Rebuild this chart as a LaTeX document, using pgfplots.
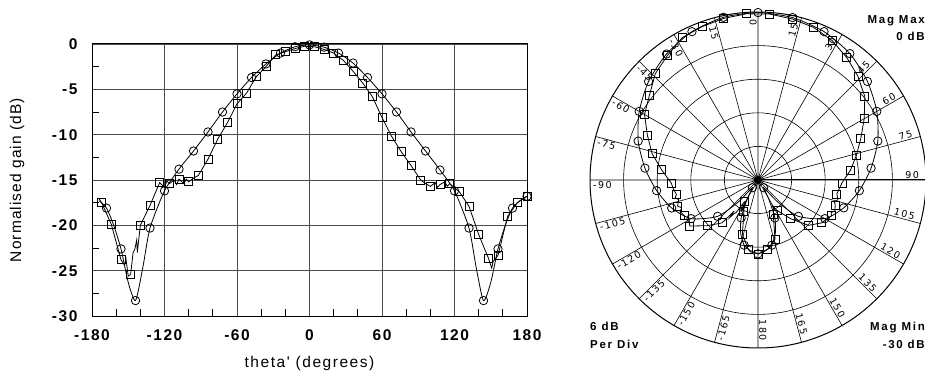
\documentclass[border=0pt]{standalone}
\usepackage{fontspec}
\usepackage{pgfplots}
\usepackage{pgfplotstable}
\pgfplotsset{compat=1.18}
\usepgfplotslibrary{polar}
\setmainfont{Liberation Sans}
\newfontfamily\trk{Liberation Sans}[LetterSpace=10]
\newfontfamily\trky{Liberation Sans}[LetterSpace=7]
\newfontfamily\trkc{Liberation Sans}[LetterSpace=15]
\newfontfamily\ang{DejaVu Sans}[LetterSpace=15]

\pgfplotstableread{
t g
-174 -17.3
-168 -18.1
-162 -20.0
-156 -22.6
-150 -26.3
-144 -28.3
-138 -24.7
-132 -20.3
-120 -16.2
-108 -13.8
-96 -11.8
-84 -9.7
-72 -7.5
-60 -5.5
-48 -3.7
-36 -2.2
-24 -1.0
-12 -0.3
0 -0.1
12 -0.35
24 -1.0
36 -2.1
48 -3.7
60 -5.5
72 -7.5
84 -9.7
96 -11.8
108 -13.9
120 -16.2
132 -20.3
138 -24.7
144 -28.3
150 -26.3
156 -22.6
162 -20.0
168 -18.1
174 -17.3
180 -16.8
}\circline

\pgfplotstableread{
t g
-168 -18.1
-156 -22.6
-144 -28.3
-132 -20.3
-120 -16.2
-108 -13.8
-96 -11.8
-84 -9.7
-72 -7.5
-60 -5.5
-48 -3.7
-36 -2.2
-24 -1.0
-12 -0.3
0 -0.1
12 -0.35
24 -1.0
36 -2.1
48 -3.7
60 -5.5
72 -7.5
84 -9.7
96 -11.8
108 -13.9
120 -16.2
132 -20.3
144 -28.3
156 -22.6
168 -18.1
180 -16.8
}\circmarks

\pgfplotstableread{
t g
180 -16.8
186 -17.3
}\circwrap

\pgfplotstableread{
t g
-174 -17.1
-172 -17.5
-164 -19.9
-156 -23.8
-153 -24.4
-152 -23.6
-150 -25.6
-148 -25.4
-146 -23.0
-144.5 -22.6
-143 -21.6
-142.5 -23.0
-140 -20.0
-132 -17.8
-124 -15.3
-120 -15.8
-118 -15.1
-116 -15.4
-112 -15.0
-110 -15.5
-108 -14.9
-104 -15.4
-102 -14.9
-100 -15.2
-96 -14.8
-92 -14.5
-84 -12.7
-76 -10.5
-68 -8.7
-60 -6.6
-52 -5.4
-44 -3.6
-36 -2.5
-28 -1.2
-20 -0.85
-12 -0.5
-4 -0.25
4 -0.3
12 -0.6
20 -1.0
28 -1.8
36 -3.0
44 -4.3
52 -5.8
60 -8.1
68 -10.2
76 -11.9
84 -13.4
92 -15.0
96 -15.4
100 -15.7
104 -15.3
106 -15.8
108 -15.5
112 -15.2
114 -15.7
116 -15.4
124 -16.3
132 -17.9
140 -21.0
148 -23.6
150.8 -24.7
152 -24.0
156 -23.3
164 -19.0
172 -17.5
180 -16.8
}\sqline

\pgfplotstableread{
t g
-172 -17.5
-164 -19.9
-156 -23.8
-148 -25.4
-140 -20.0
-132 -17.8
-124 -15.3
-116 -15.4
-108 -14.9
-100 -15.2
-92 -14.5
-84 -12.7
-76 -10.5
-68 -8.7
-60 -6.6
-52 -5.4
-44 -3.6
-36 -2.5
-28 -1.2
-20 -0.85
-12 -0.5
-4 -0.25
4 -0.3
12 -0.6
20 -1.0
28 -1.8
36 -3.0
44 -4.3
52 -5.8
60 -8.1
68 -10.2
76 -11.9
84 -13.4
92 -15.0
100 -15.7
108 -15.5
116 -15.4
124 -16.3
132 -17.9
140 -21.0
148 -23.6
156 -23.3
164 -19.0
172 -17.5
180 -16.8
}\sqmarks

\pgfplotstableread{
t g
180 -16.8
186 -17.1
}\sqwrap

\begin{document}
\begin{tikzpicture}
\useasboundingbox (0,0) rectangle (925bp,377bp);
\begin{axis}[
  at={(92bp,61bp)}, anchor=south west,
  scale only axis, width=435bp, height=272bp,
  xmin=-180, xmax=180, ymin=-30, ymax=0,
  xtick={-180,-120,...,180}, ytick={-30,-25,...,0},
  xticklabels={-180,-120,-60,0,60,120,180},
  yticklabels={-30,-25,-20,-15,-10,-5,0},
  minor x tick num=2, minor y tick num=1,
  tick pos=left, tick align=inside,
  major tick length=0bp, minor tick length=7bp,
  minor tick style={black, line width=0.7bp},
  grid=major, major grid style={black!70, line width=0.7bp},
  axis line style={line width=1bp},
  ticklabel style={font=\trk\bfseries\fontsize{15.5bp}{17bp}\selectfont},
  xticklabel style={yshift=-10bp},
  yticklabel style={xshift=-11bp},
  xlabel={theta' (degrees)},
  ylabel={Normalised gain (dB)},
  xlabel style={font=\trk\fontsize{15.5bp}{17bp}\selectfont, at={(axis description cs:0.5,0)}, anchor=base, yshift=-51bp},
  ylabel style={font=\trky\fontsize{15.5bp}{17bp}\selectfont, at={(axis description cs:-0.172,0.5)}, anchor=center},
]
\addplot[black, line width=0.8bp, smooth, tension=0.4] table[x=t,y=g]{\circline};
\addplot[black, line width=0.8bp] table[x=t,y=g]{\sqline};
\addplot[black, only marks, mark=o, mark size=4.2bp, line width=0.8bp] table[x=t,y=g]{\circmarks};
\addplot[black, only marks, mark=square, mark size=4bp, line width=0.8bp] table[x=t,y=g]{\sqmarks};
\end{axis}

\begin{polaraxis}[
  at={(758bp,197bp)}, anchor=origin,
  scale only axis, width=336bp, height=336bp,
  ymin=0, ymax=30,
  xtick={0,15,...,345}, ytick={6,12,18,24},
  xticklabels={}, yticklabels={},
  major tick length=0bp,
  grid=major, major grid style={black, line width=0.6bp},
  axis line style={line width=1bp},
]
\addplot[black, line width=0.8bp, smooth, tension=0.4] table[x expr={mod(450-\thisrow{t},360)}, y expr={\thisrow{g}+30}]{\circline};
\addplot[black, line width=0.8bp] table[x expr={mod(450-\thisrow{t},360)}, y expr={\thisrow{g}+30}]{\circwrap};
\addplot[black, line width=0.8bp] table[x expr={mod(450-\thisrow{t},360)}, y expr={\thisrow{g}+30}]{\sqline};
\addplot[black, line width=0.8bp] table[x expr={mod(450-\thisrow{t},360)}, y expr={\thisrow{g}+30}]{\sqwrap};
\addplot[black, only marks, mark=o, mark size=4.2bp, line width=0.8bp] table[x expr={mod(450-\thisrow{t},360)}, y expr={\thisrow{g}+30}]{\circmarks};
\addplot[black, only marks, mark=square, mark size=4bp, line width=0.8bp] table[x expr={mod(450-\thisrow{t},360)}, y expr={\thisrow{g}+30}]{\sqmarks};
\end{polaraxis}

\begin{scope}[shift={(758bp,197bp)}, every node/.style={font=\ang\fontsize{9.5bp}{10bp}\selectfont, inner sep=1bp}]
\foreach \t in {0,15,...,180}
  \node[rotate={90-(\t)}, anchor=south east] at ({90-(\t)}:162bp) {\t};
\foreach \t in {-15,-30,...,-165}
  \node[rotate={-90-(\t)}, anchor=north west] at ({90-(\t)}:166bp) {\t};
\end{scope}

\begin{scope}[every node/.style={font=\trkc\bfseries\fontsize{11.5bp}{12bp}\selectfont, inner sep=0pt}]
\node[anchor=base east] at (925bp,353bp) {Mag Max};
\node[anchor=base east] at (925bp,336.3bp) {0 dB};
\node[anchor=base west] at (590bp,46.3bp) {6 dB};
\node[anchor=base west] at (590bp,28.7bp) {Per Div};
\node[anchor=base east] at (925bp,46.3bp) {Mag Min};
\node[anchor=base east] at (925bp,28.7bp) {-30 dB};
\end{scope}
\end{tikzpicture}
\end{document}
